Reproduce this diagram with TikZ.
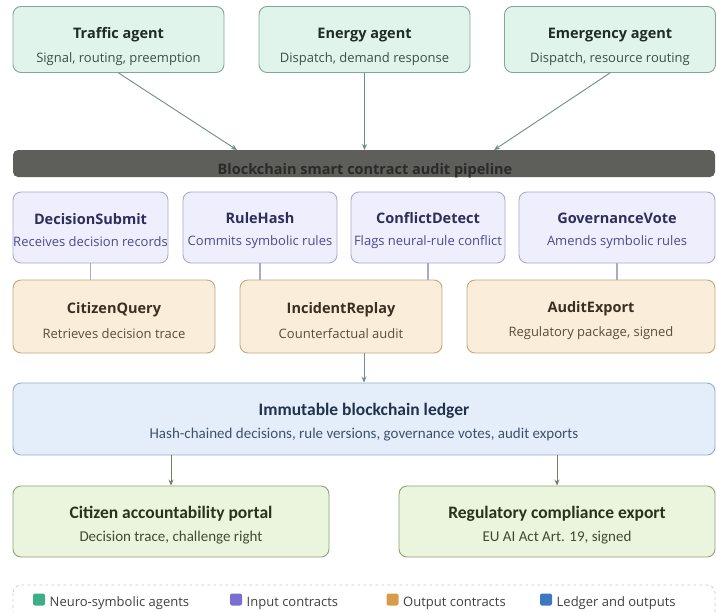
\documentclass[tikz,border=0pt]{standalone}
\usepackage{fontspec}
\setmainfont{Open Sans}
\newfontfamily\narrowfont{Carlito}
\usepackage{xcolor}
\usetikzlibrary{arrows.meta,positioning,calc}
\definecolor{agfill}{HTML}{E1F4EC}
\definecolor{agdraw}{HTML}{7FA898}
\definecolor{agtxt}{HTML}{1F2C28}
\definecolor{agsub}{HTML}{3E4E49}
\definecolor{infill}{HTML}{EFEEFC}
\definecolor{indraw}{HTML}{ABA9CB}
\definecolor{intxt}{HTML}{2E2E5C}
\definecolor{insub}{HTML}{4C4A8E}
\definecolor{outfill}{HTML}{FAEDDA}
\definecolor{outdraw}{HTML}{C4A67F}
\definecolor{outtxt}{HTML}{3A3022}
\definecolor{outsub}{HTML}{5B4D3C}
\definecolor{ldfill}{HTML}{E4EEFA}
\definecolor{lddraw}{HTML}{92ABC7}
\definecolor{ldtxt}{HTML}{22324A}
\definecolor{ldsub}{HTML}{3F5169}
\definecolor{exfill}{HTML}{EBF4DD}
\definecolor{exdraw}{HTML}{8CA273}
\definecolor{extxt}{HTML}{27331C}
\definecolor{exsub}{HTML}{404B34}
\definecolor{pipefill}{HTML}{5E5E5A}
\definecolor{pipetxt}{HTML}{2A2A2A}
\definecolor{keyag}{HTML}{3DAE88}
\definecolor{keyin}{HTML}{7A6ED2}
\definecolor{keyout}{HTML}{D69C4C}
\definecolor{keyld}{HTML}{3C79C2}
\tikzset{
  card/.style    = {draw, rounded corners=8pt, line width=0.9pt, align=center,
                    inner sep=2pt},
  agent/.style   = {card, fill=agfill, draw=agdraw, text=agtxt,
                    minimum width=211pt, minimum height=66pt},
  incon/.style   = {card, fill=infill, draw=indraw, text=intxt,
                    minimum height=71pt},
  outcon/.style  = {card, fill=outfill, draw=outdraw, text=outtxt,
                    minimum height=73pt},
  ledger/.style  = {card, fill=ldfill, draw=lddraw, text=ldtxt,
                    minimum width=702pt, minimum height=72pt},
  export/.style  = {card, fill=exfill, draw=exdraw, text=extxt,
                    minimum width=316pt, minimum height=71pt},
  flow/.style    = {-{Stealth[length=6pt,width=5pt]}, line width=0.9pt},
  key/.style     = {rounded corners=2pt, minimum size=12pt, inner sep=0pt},
}
% title on top, grey-ish line below (optional arg lifts the text down)
\newcommand{\cardtext}[4][17pt]{\rule{0pt}{#1}{\fontsize{14.5}{17}\selectfont\bfseries #2}\\[10pt]%
  \makebox[0pt]{\fontsize{13}{15}\selectfont\color{#4}#3}}
\newcommand{\narrowtext}[3]{\rule{0pt}{19pt}{\narrowfont\fontsize{17.5}{19}\selectfont\bfseries #1}\\[9pt]%
  {\narrowfont\fontsize{15}{16}\selectfont\color{#3}#2}}

\begin{document}
\begin{tikzpicture}[x=1pt, y=-1pt]
\useasboundingbox (0,0) rectangle (717,611);

% agents
\node[agent] (tr) at (118.5,39.5) {\cardtext[25pt]{Traffic agent}{Signal, routing, preemption}{agsub}};
\node[agent] (en) at (364.5,39.5) {\cardtext[25pt]{Energy agent}{Dispatch, demand response}{agsub}};
\node[agent] (em) at (610,39.5) {\cardtext[25pt]{Emergency agent}{Dispatch, resource routing}{agsub}};

% audit pipeline bar
\node[fill=pipefill, rounded corners=5pt, minimum width=702pt,
      minimum height=27pt, inner sep=0pt] (pipe) at (364,163.5) {};
\node[text=pipetxt, font=\fontsize{14.5}{17}\selectfont\bfseries] (pipelbl)
  at (365,170.5) {Blockchain smart contract audit pipeline};
\coordinate (p1) at (237,150);
\coordinate (p2) at (364.5,150);
\coordinate (p3) at (494,150);
\foreach \a/\b in {tr/p1,en/p2,em/p3}
  \draw[flow, draw=agdraw!85!black] (\a.south) -- (\b);

% input contracts
\node[incon, minimum width=155pt] (ds) at (90.5,227.5) {\cardtext{DecisionSubmit}{Receives decision records}{insub}};
\node[incon, minimum width=154pt] (rh) at (260,227.5) {\cardtext{RuleHash}{Commits symbolic rules}{insub}};
\node[incon, minimum width=154pt] (cd) at (428,227.5) {\cardtext{ConflictDetect}{Flags neural-rule conflict}{insub}};
\node[incon, minimum width=196pt] (gv) at (617,227.5) {\cardtext{GovernanceVote}{Amends symbolic rules}{insub}};

% output contracts
\node[outcon, minimum width=202pt] (cq) at (114,316.5) {\cardtext[19pt]{CitizenQuery}{Retrieves decision trace}{outsub}};
\node[outcon, minimum width=202pt] (ir) at (341,316.5) {\cardtext[19pt]{IncidentReplay}{Counterfactual audit}{outsub}};
\node[outcon, minimum width=248pt] (ae) at (591,316.5) {\cardtext[19pt]{AuditExport}{Regulatory package, signed}{outsub}};
\foreach \a/\b in {ds/cq,rh/ir,cd/ir,gv/ae}
  \draw[draw=indraw, line width=1.2pt] (\a.south) -- (\a.south |- \b.north);

% ledger and outputs
\node[ledger] (led) at (364,419) {\narrowtext{Immutable blockchain ledger}{Hash-chained decisions, rule versions, governance votes, audit exports}{ldsub}};
\draw[flow, draw=lddraw!80!black] (ir.south -| led.north) -- (led.north);
\node[export] (cap) at (171,521.5) {\narrowtext{Citizen accountability portal}{Decision trace, challenge right}{exsub}};
\node[export] (rce) at (557,521.5) {\narrowtext{Regulatory compliance export}{EU AI Act Art. 19, signed}{exsub}};
\foreach \b in {cap,rce}
  \draw[flow, draw=exdraw!80!black] (led.south -| \b.north) -- (\b.north);

% legend
\draw[dashed, draw=black!20, rounded corners=8pt, line width=0.8pt] (13,585) rectangle (715,630);
\foreach \x/\c/\t in {39/keyag/Neuro-symbolic agents, 236/keyin/Input contracts,
                      392.5/keyout/Output contracts, 546/keyld/Ledger and outputs}
  \node[key, fill=\c, label={[font=\fontsize{13}{15}\selectfont, text=black!75, xshift=1pt, yshift=-3.5pt]right:\t}]
    (k\x) at (\x,599.5) {};
\end{tikzpicture}
\end{document}
